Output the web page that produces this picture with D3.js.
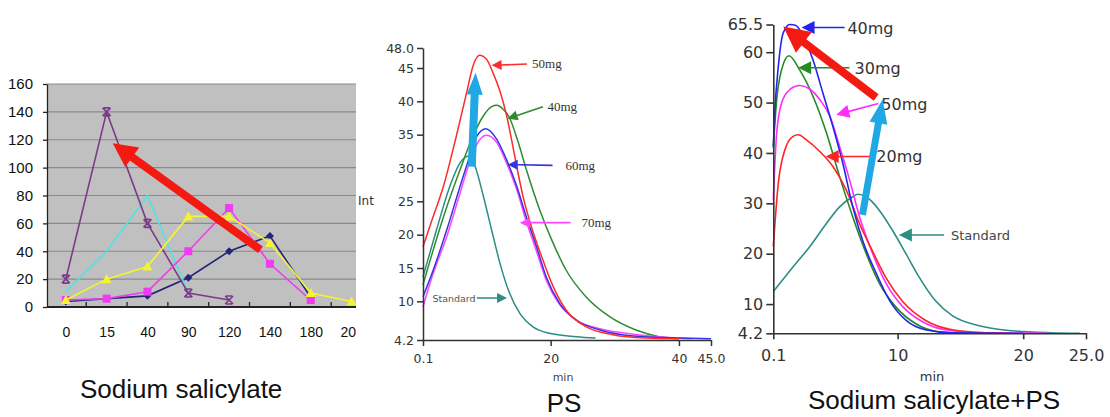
<!DOCTYPE html>
<html><head><meta charset="utf-8">
<script src="https://cdn.jsdelivr.net/npm/d3@7"></script>
<style>body{margin:0;background:#fff}svg{display:block}</style>
</head><body>
<svg id="fig" width="1110" height="417"></svg>
<script>
// ---------- Panel 1: Sodium salicylate (sampling time vs value) ----------
const timeCategories = ["0","15","40","90","120","140","180","200"];
const p1TickValues = [0,20,40,60,80,100,120,140,160];
const purpleSeries  = [20,140,60,10,5];
const cyanSeries    = [11,40,80,10];
const yellowSeries  = [5,20,29,65,65,46,10,4];
const magentaSeries = [5,6,11,40,71,31,5];
const navySeries    = [4,6,8,21,40,51,7];

// ---------- Panel 2: PS (min vs Int) ----------
const p2XTicks = [0.1,20,40,45];
const p2XLabels = ["0.1","20","40","45.0"];
const p2YTicks = [4.2,10,15,20,25,30,35,40,45,48];
const p2YLabels = ["4.2","10","15","20","25","30","35","40","45","48.0"];
const ps50mg = [[0.1,18.2],[1.5,22.2],[3.3,27.3],[5.3,34.8],[6.9,41.3],[7.9,45.3],[8.9,46.9],[10.0,46.3],[11.0,44.3],[12.1,41.5],[13.1,38.0],[13.9,34.3],[14.7,30.3],[15.7,25.7],[17.0,21.2],[18.6,16.7],[20.4,12.2],[22.4,8.7],[25.5,6.2],[29.7,5.0],[34.8,4.5],[40.0,4.4]];
const ps40mg = [[0.1,12.5],[3.3,22.7],[5.9,29.8],[7.9,34.8],[9.5,37.8],[10.8,39.2],[11.6,39.4],[12.6,38.8],[13.6,37.5],[14.9,34.0],[16.2,29.8],[18.3,23.7],[20.4,18.7],[22.4,14.7],[25.5,10.7],[29.2,7.7],[33.3,5.7],[36.9,4.7],[40.0,4.4]];
const ps60mg = [[0.1,10.7],[1.7,14.7],[3.8,20.7],[5.9,27.3],[7.4,31.8],[8.5,34.8],[9.9,35.9],[11.6,34.3],[13.1,31.3],[14.7,27.3],[16.2,22.7],[17.8,18.2],[19.3,13.7],[21.4,9.7],[24.0,7.2],[27.7,5.7],[32.9,4.8],[40.2,4.5],[45.0,4.4]];
const ps70mg = [[0.1,9.2],[1.7,14.2],[3.8,19.7],[5.9,26.3],[7.9,32.3],[9.0,34.3],[10.0,34.9],[11.6,33.8],[13.1,30.8],[14.7,26.8],[16.2,22.0],[17.8,17.5],[19.3,13.2],[21.4,9.5],[24.0,7.2],[27.7,5.9],[31.8,5.2],[39.5,4.5],[42.0,4.4]];
const psStandard = [[0.1,13.7],[2.2,20.7],[4.3,27.3],[5.9,30.8],[7.2,31.8],[8.2,30.3],[9.5,25.8],[10.8,20.7],[12.1,15.7],[13.6,11.2],[15.2,8.2],[17.2,6.2],[19.8,5.2],[24.0,4.7],[27.0,4.5]];

// ---------- Panel 3: Sodium salicylate+PS (min vs Int) ----------
const p3XTicks = [0.1,10,20,25];
const p3XLabels = ["0.1","10","20","25.0"];
const p3YTicks = [4.2,10,20,30,40,50,60,65.5];
const p3YLabels = ["4.2","10","20","30","40","50","60","65.5"];
const mix40mg = [[0.1,41.3],[0.23,48.6],[0.5,57.2],[0.89,63.8],[1.42,65.5],[1.9,65.3],[2.5,63.1],[3.27,58.4],[4.06,51.8],[4.85,45.2],[5.64,37.9],[6.43,29.3],[7.2,22.7],[8.3,16.1],[9.34,10.8],[10.66,6.8],[12.2,4.9],[14.3,4.3],[20.0,4.2]];
const mix30mg = [[0.1,41.0],[0.37,50.6],[0.76,56.5],[1.34,59.3],[2.2,56.5],[3.27,51.2],[4.33,44.0],[5.38,35.3],[6.43,27.3],[7.5,20.0],[8.55,14.1],[9.87,9.4],[11.45,6.1],[13.3,4.5],[16.0,4.2]];
const mix50mg = [[0.1,30.7],[0.37,44.0],[0.76,49.9],[1.42,52.6],[2.2,53.4],[3.0,52.7],[3.8,50.6],[4.6,47.3],[5.38,41.3],[6.17,34.7],[6.96,27.4],[8.0,20.1],[9.08,14.1],[10.4,9.5],[11.98,6.5],[13.8,4.9],[17.0,4.3],[22.0,4.2]];
const mix20mg = [[0.1,21.4],[0.5,34.0],[1.02,40.6],[1.68,43.3],[2.08,43.6],[2.74,42.6],[3.8,40.3],[4.85,37.3],[5.9,32.7],[6.96,26.0],[8.0,20.5],[9.08,15.2],[10.4,10.5],[12.2,6.8],[14.35,4.9],[17.0,4.3],[19.0,4.2]];
const mixStandard = [[0.1,12.5],[1.68,17.4],[3.0,21.4],[4.33,26.0],[5.38,29.3],[6.43,31.3],[6.83,31.8],[7.5,31.3],[8.55,28.6],[9.6,24.6],[10.66,20.0],[11.7,15.4],[13.0,10.7],[14.35,7.7],[16.5,5.7],[19.1,4.7],[22.2,4.3],[24.5,4.2]];

const svg = d3.select("#fig");
svg.append("rect").attr("width",1110).attr("height",417).attr("fill","#fff");

function thickArrow(g, x0, y0, x1, y1, shaft, headW, headL, color) {
  const dx = x1 - x0, dy = y1 - y0, L = Math.hypot(dx, dy);
  const ux = dx / L, uy = dy / L, nx = -uy, ny = ux;
  const bx = x1 - ux * headL, by = y1 - uy * headL;
  const pts = [
    [x0 + nx * shaft / 2, y0 + ny * shaft / 2],
    [bx + nx * shaft / 2, by + ny * shaft / 2],
    [bx + nx * headW / 2, by + ny * headW / 2],
    [x1, y1],
    [bx - nx * headW / 2, by - ny * headW / 2],
    [bx - nx * shaft / 2, by - ny * shaft / 2],
    [x0 - nx * shaft / 2, y0 - ny * shaft / 2]
  ];
  g.append("polygon").attr("points", pts.map(p => p.join(",")).join(" ")).attr("fill", color);
}

// ================= Panel 1 =================
const p1 = svg.append("g");
svg.append("clipPath").attr("id","clip1").append("rect").attr("x",0).attr("y",0).attr("width",356).attr("height",360);
p1.attr("clip-path","url(#clip1)");
const y1 = d3.scaleLinear().domain([0,160]).range([307,84]);
const x1 = d3.scalePoint().domain(timeCategories).range([45.4,372]).padding(0.5);
const step1 = x1.step();
const plotL = 47, plotR = 357;

p1.append("rect").attr("x",plotL).attr("y",y1(160)).attr("width",plotR-plotL).attr("height",y1(0)-y1(160)).attr("fill","#c0c0c0");
p1.selectAll("line.grid").data(p1TickValues.slice(1)).join("line")
  .attr("x1",plotL).attr("x2",plotR).attr("y1",d=>y1(d)).attr("y2",d=>y1(d))
  .attr("stroke","#8a8a8a").attr("stroke-width",1.2);

const ax1 = p1.append("g").attr("transform",`translate(${plotL},0)`)
  .call(d3.axisLeft(y1).tickValues(p1TickValues).tickSize(4).tickSizeOuter(0).tickPadding(10));
ax1.select(".domain").attr("stroke","#222").attr("stroke-width",1.3);
ax1.selectAll(".tick line").attr("stroke","#222").attr("stroke-width",1.3);
ax1.selectAll("text").attr("font-family","Liberation Sans, Arial, sans-serif").attr("font-size",15).attr("fill","#111");

const bx1 = p1.append("g").attr("transform",`translate(0,${y1(0)})`)
  .call(d3.axisBottom(x1).tickSize(0).tickPadding(20));
bx1.select(".domain").attr("d",`M${plotL},0H${plotR}`).attr("stroke","#222").attr("stroke-width",2);
bx1.selectAll("text").attr("font-family","Liberation Sans, Arial, sans-serif").attr("font-size",14).attr("fill","#111");
// category boundary ticks
p1.selectAll("line.ctick").data(timeCategories.slice(1)).join("line")
  .attr("x1",d=>x1(d)-step1/2).attr("x2",d=>x1(d)-step1/2)
  .attr("y1",y1(0)).attr("y2",y1(0)-5).attr("stroke","#222").attr("stroke-width",1.3);

const line1 = d3.line().x((d,i)=>x1(timeCategories[i])).y(d=>y1(d));
const p1Series = [
  {vals: navySeries, color:"#23237a", marker:"diamond"},
  {vals: cyanSeries, color:"#4fe3e3", marker:"none"},
  {vals: purpleSeries, color:"#7b3a8c", marker:"x"},
  {vals: magentaSeries, color:"#f03cf0", marker:"square"},
  {vals: yellowSeries, color:"#f4f430", marker:"triangle"}
];
p1Series.forEach(s => {
  p1.append("path").attr("d", line1(s.vals)).attr("fill","none").attr("stroke",s.color).attr("stroke-width",1.6);
  s.vals.forEach((v,i) => {
    const cx = x1(timeCategories[i]), cy = y1(v);
    if (s.marker === "square") {
      p1.append("rect").attr("x",cx-4).attr("y",cy-4).attr("width",8).attr("height",8).attr("fill",s.color);
    } else if (s.marker === "triangle") {
      p1.append("path").attr("d",`M${cx},${cy-5}L${cx+5},${cy+4}L${cx-5},${cy+4}Z`).attr("fill",s.color);
    } else if (s.marker === "diamond") {
      p1.append("path").attr("d",`M${cx},${cy-4}L${cx+4},${cy}L${cx},${cy+4}L${cx-4},${cy}Z`).attr("fill",s.color);
    } else if (s.marker === "x") {
      p1.append("path").attr("d",`M${cx-4},${cy-4}L${cx+4},${cy+4}M${cx+4},${cy-4}L${cx-4},${cy+4}M${cx-3},${cy-4}H${cx+3}M${cx-3},${cy+4}H${cx+3}`)
        .attr("stroke",s.color).attr("stroke-width",1.6).attr("fill","none");
    }
  });
});
// trend arrow (category index, value)
const p1Arrow = {from:[4.77,41], to:[1.15,117.5]};
const xi = i => x1(timeCategories[0]) + i * step1;
thickArrow(p1, xi(p1Arrow.from[0]), y1(p1Arrow.from[1]), xi(p1Arrow.to[0]), y1(p1Arrow.to[1]), 8, 24, 24, "#f41a12");

// ================= Panel 2 =================
const p2 = svg.append("g");
const x2 = d3.scaleLinear().domain([0.1,45]).range([423,711]);
const y2 = d3.scaleLinear().domain([4.2,48]).range([340,48]);
const line2 = d3.line().x(d=>x2(d[0])).y(d=>y2(d[1])).curve(d3.curveMonotoneX);
[
  {d: psStandard, c:"#2b8d84"},
  {d: ps40mg, c:"#2e8b2e"},
  {d: ps70mg, c:"#ff44ff"},
  {d: ps60mg, c:"#3434e0"},
  {d: ps50mg, c:"#ff2a2a"}
].forEach(s => p2.append("path").attr("d", line2(s.d)).attr("fill","none").attr("stroke",s.c).attr("stroke-width",1.5));

const ay2 = p2.append("g").attr("transform",`translate(${x2(0.1)},0)`)
  .call(d3.axisLeft(y2).tickValues(p2YTicks).tickFormat((d,i)=>p2YLabels[i]).tickSize(6).tickSizeOuter(0).tickPadding(3));
const axx2 = p2.append("g").attr("transform",`translate(0,${y2(4.2)})`)
  .call(d3.axisBottom(x2).tickValues(p2XTicks).tickFormat((d,i)=>p2XLabels[i]).tickSize(6).tickSizeOuter(0).tickPadding(8));
[ay2, axx2].forEach(a => {
  a.select(".domain").attr("stroke","#333").attr("stroke-width",1.5);
  a.selectAll(".tick line").attr("stroke","#333").attr("stroke-width",1.5);
  a.selectAll("text").attr("font-family","DejaVu Sans, sans-serif").attr("font-size",12.5).attr("fill","#333");
});
p2.append("text").attr("x",358).attr("y",205).text("Int")
  .attr("font-family","DejaVu Sans, sans-serif").attr("font-size",12).attr("fill","#333");
p2.append("text").attr("x",563).attr("y",381).attr("text-anchor","middle").text("min")
  .attr("font-family","DejaVu Sans, sans-serif").attr("font-size",11).attr("fill","#444");

const p2Notes = [
  {label:"50mg", tail:[16.3,45.6], tip:[10.8,45.4], text:[17.1,45.6], c:"#ff2a2a"},
  {label:"40mg", tail:[18.8,39.2], tip:[13.3,37.4], text:[19.5,39.1], c:"#2e8b2e"},
  {label:"60mg", tail:[20.3,30.4], tip:[13.3,30.5], text:[22.3,30.3], c:"#3434e0"},
  {label:"70mg", tail:[23.1,21.8], tip:[15.2,21.8], text:[24.8,21.8], c:"#ff44ff"}
];
p2Notes.forEach(n => {
  thickArrow(p2, x2(n.tail[0]), y2(n.tail[1]), x2(n.tip[0]), y2(n.tip[1]), 1.6, 10, 10, n.c);
  p2.append("text").attr("x",x2(n.text[0])).attr("y",y2(n.text[1])+4).text(n.label)
    .attr("font-family","Liberation Serif, Times New Roman, serif").attr("font-size",13).attr("fill","#333");
});
thickArrow(p2, x2(8.5), y2(10.5), x2(13.2), y2(10.5), 1.6, 10, 10, "#2b8d84");
p2.append("text").attr("x",x2(8.3)).attr("y",y2(10.5)+3.5).attr("text-anchor","end").text("Standard")
  .attr("font-family","DejaVu Sans, sans-serif").attr("font-size",9.5).attr("fill","#555");
thickArrow(p2, x2(7.7), y2(30.2), x2(8.3), y2(44.3), 8, 16, 22, "#20a8e4");

// ================= Panel 3 =================
const p3 = svg.append("g");
const x3 = d3.scaleLinear().domain([0.1,25]).range([773.3,1086]);
const y3 = d3.scaleLinear().domain([4.2,65.5]).range([333.3,24.5]);
const line3 = d3.line().x(d=>x3(d[0])).y(d=>y3(d[1])).curve(d3.curveMonotoneX);
[
  {d: mixStandard, c:"#2b8d84"},
  {d: mix30mg, c:"#228b22"},
  {d: mix50mg, c:"#ff2cff"},
  {d: mix20mg, c:"#ff2424"},
  {d: mix40mg, c:"#2424f0"}
].forEach(s => p3.append("path").attr("d", line3(s.d)).attr("fill","none").attr("stroke",s.c).attr("stroke-width",1.6));

const ay3 = p3.append("g").attr("transform",`translate(${x3(0.1)},0)`)
  .call(d3.axisLeft(y3).tickValues(p3YTicks).tickFormat((d,i)=>p3YLabels[i]).tickSize(7).tickSizeOuter(0).tickPadding(3));
const axx3 = p3.append("g").attr("transform",`translate(0,${y3(4.2)})`)
  .call(d3.axisBottom(x3).tickValues(p3XTicks).tickFormat((d,i)=>p3XLabels[i]).tickSize(6).tickSizeOuter(0).tickPadding(10));
[ay3, axx3].forEach(a => {
  a.select(".domain").attr("stroke","#333").attr("stroke-width",1.6);
  a.selectAll(".tick line").attr("stroke","#333").attr("stroke-width",1.6);
  a.selectAll("text").attr("font-family","DejaVu Sans, sans-serif").attr("font-size",16).attr("fill","#333");
});
p3.append("text").attr("x",932).attr("y",381).attr("text-anchor","middle").text("min")
  .attr("font-family","DejaVu Sans, sans-serif").attr("font-size",13).attr("fill","#333");

const p3Notes = [
  {label:"40mg", tail:[5.78,64.9], tip:[2.35,64.9], text:[6.0,64.9], c:"#2424f0"},
  {label:"30mg", tail:[6.17,56.9], tip:[2.08,56.9], text:[6.57,56.9], c:"#228b22"},
  {label:"50mg", tail:[8.47,49.8], tip:[5.12,47.6], text:[8.7,49.8], c:"#ff2cff"},
  {label:"20mg", tail:[8.15,39.3], tip:[4.27,39.3], text:[8.3,39.3], c:"#ff2424"}
];
p3Notes.forEach(n => {
  thickArrow(p3, x3(n.tail[0]), y3(n.tail[1]), x3(n.tip[0]), y3(n.tip[1]), 1.6, 13, 13, n.c);
  p3.append("text").attr("x",x3(n.text[0])).attr("y",y3(n.text[1])+6).text(n.label)
    .attr("font-family","DejaVu Sans, sans-serif").attr("font-size",16).attr("fill","#333");
});
thickArrow(p3, x3(13.7), y3(23.7), x3(10.1), y3(23.7), 1.6, 13, 13, "#2b8d84");
p3.append("text").attr("x",x3(14.25)).attr("y",y3(23.7)+5).text("Standard")
  .attr("font-family","DejaVu Sans, sans-serif").attr("font-size",13).attr("fill","#444");
thickArrow(p3, x3(8.29), y3(51.0), x3(0.89), y3(65.1), 8, 26, 26, "#f41a12");
thickArrow(p3, x3(7.2), y3(27.7), x3(8.8), y3(50.6), 7, 18, 24, "#20a8e4");

// ================= Captions =================
const captionFont = "Liberation Sans, Arial, sans-serif";
svg.append("text").attr("x",80).attr("y",398).text("Sodium salicylate")
  .attr("font-family",captionFont).attr("font-size",26).attr("fill","#111");
svg.append("text").attr("x",564).attr("y",412).attr("text-anchor","middle").text("PS")
  .attr("font-family",captionFont).attr("font-size",26).attr("fill","#111");
svg.append("text").attr("x",808).attr("y",409).text("Sodium salicylate+PS")
  .attr("font-family",captionFont).attr("font-size",26).attr("fill","#111");
</script>
</body></html>
